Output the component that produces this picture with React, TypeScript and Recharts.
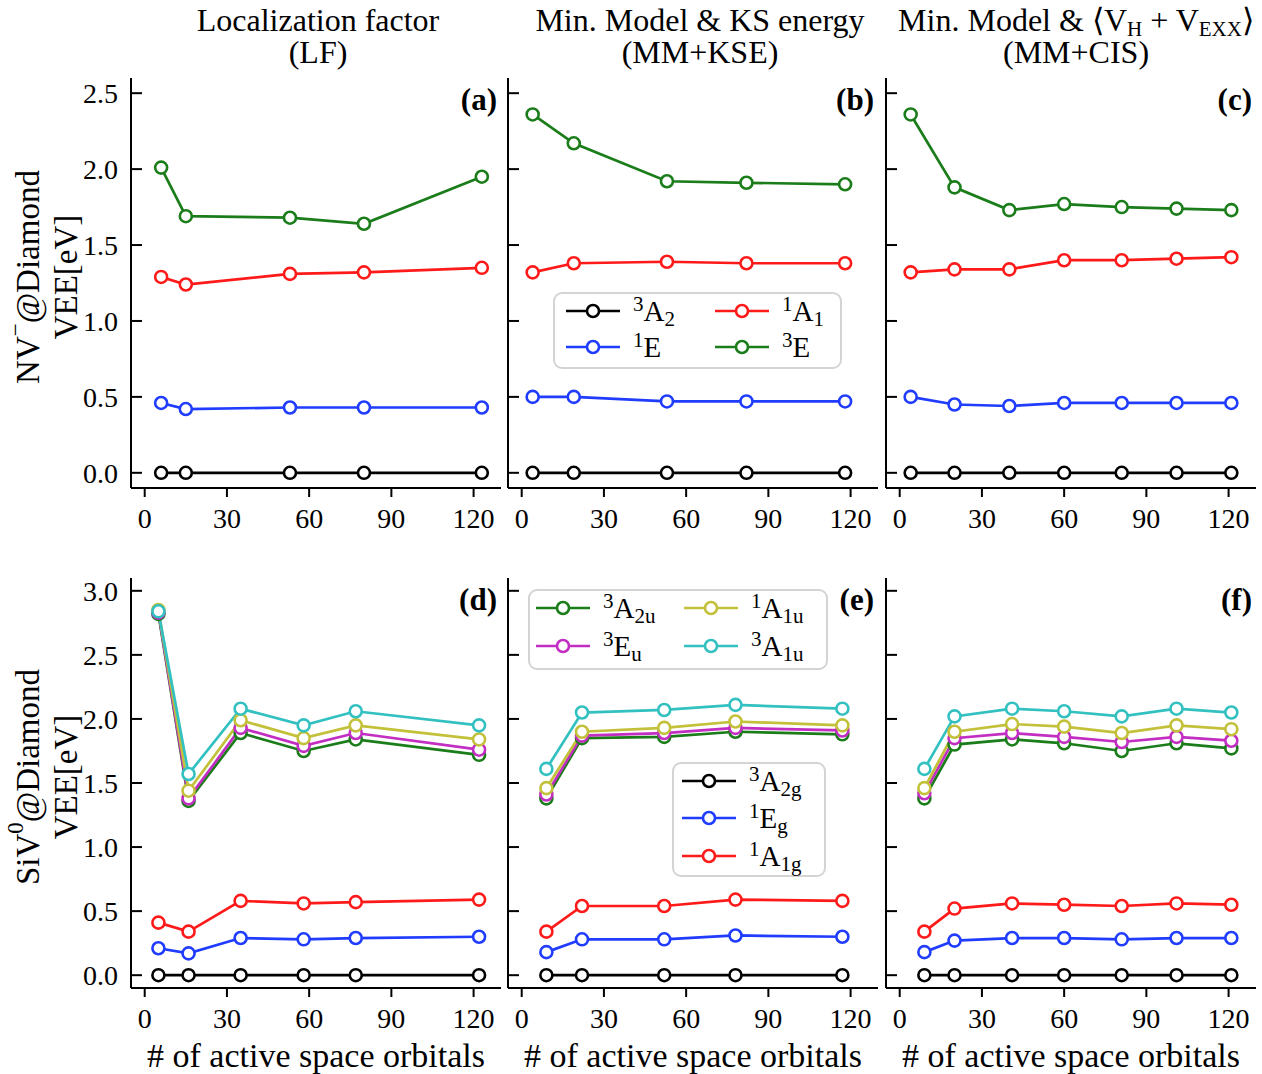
import React from 'react';
import { LineChart, Line, XAxis, YAxis, Legend } from 'recharts';

// x = number of active space orbitals, one list per panel
const xNvLF = [6, 15, 53, 80, 123];
const xNvKSE = [4, 19, 53, 82, 118];
const xNvCIS = [4, 20, 40, 60, 81, 101, 121];
const xSiLF = [5, 16, 35, 58, 77, 122];
const xSiKSE = [9, 22, 52, 78, 117];
const xSiCIS = [9, 20, 41, 60, 81, 101, 121];

// NV- @ diamond, VEE in eV
const nvLF_3A2 = [0, 0, 0, 0, 0];
const nvLF_1E = [0.46, 0.42, 0.43, 0.43, 0.43];
const nvLF_1A1 = [1.29, 1.24, 1.31, 1.32, 1.35];
const nvLF_3E = [2.01, 1.69, 1.68, 1.64, 1.95];

const nvKSE_3A2 = [0, 0, 0, 0, 0];
const nvKSE_1E = [0.5, 0.5, 0.47, 0.47, 0.47];
const nvKSE_1A1 = [1.32, 1.38, 1.39, 1.38, 1.38];
const nvKSE_3E = [2.36, 2.17, 1.92, 1.91, 1.9];

const nvCIS_3A2 = [0, 0, 0, 0, 0, 0, 0];
const nvCIS_1E = [0.5, 0.45, 0.44, 0.46, 0.46, 0.46, 0.46];
const nvCIS_1A1 = [1.32, 1.34, 1.34, 1.4, 1.4, 1.41, 1.42];
const nvCIS_3E = [2.36, 1.88, 1.73, 1.77, 1.75, 1.74, 1.73];

// SiV0 @ diamond
const siLF_3A2u = [2.82, 1.36, 1.89, 1.75, 1.84, 1.72];
const siLF_3Eu = [2.83, 1.38, 1.93, 1.79, 1.89, 1.76];
const siLF_1A1u = [2.85, 1.44, 1.99, 1.85, 1.95, 1.84];
const siLF_3A1u = [2.84, 1.57, 2.08, 1.95, 2.06, 1.95];
const siLF_3A2g = [0, 0, 0, 0, 0, 0];
const siLF_1Eg = [0.21, 0.17, 0.29, 0.28, 0.29, 0.3];
const siLF_1A1g = [0.41, 0.34, 0.58, 0.56, 0.57, 0.59];

const siKSE_3A2u = [1.38, 1.85, 1.86, 1.9, 1.88];
const siKSE_3Eu = [1.41, 1.87, 1.89, 1.93, 1.91];
const siKSE_1A1u = [1.46, 1.9, 1.93, 1.98, 1.95];
const siKSE_3A1u = [1.61, 2.05, 2.07, 2.11, 2.08];
const siKSE_3A2g = [0, 0, 0, 0, 0];
const siKSE_1Eg = [0.18, 0.28, 0.28, 0.31, 0.3];
const siKSE_1A1g = [0.34, 0.54, 0.54, 0.59, 0.58];

const siCIS_3A2u = [1.38, 1.8, 1.84, 1.81, 1.75, 1.81, 1.77];
const siCIS_3Eu = [1.42, 1.85, 1.89, 1.86, 1.82, 1.86, 1.83];
const siCIS_1A1u = [1.46, 1.9, 1.96, 1.94, 1.89, 1.95, 1.92];
const siCIS_3A1u = [1.61, 2.02, 2.08, 2.06, 2.02, 2.08, 2.05];
const siCIS_3A2g = [0, 0, 0, 0, 0, 0, 0];
const siCIS_1Eg = [0.18, 0.27, 0.29, 0.29, 0.28, 0.29, 0.29];
const siCIS_1A1g = [0.34, 0.52, 0.56, 0.55, 0.54, 0.56, 0.55];

const xTicks = [0, 30, 60, 90, 120];
const nvYTicks = [0, 0.5, 1, 1.5, 2, 2.5];
const siYTicks = [0, 0.5, 1, 1.5, 2, 2.5, 3];

const FONT = '"Liberation Serif", "Times New Roman", serif';
const C = {
  black: '#000000',
  blue: '#1f3cff',
  red: '#ff1a1a',
  green: '#1a7d1a',
  magenta: '#c22ec2',
  yellow: '#c3c03a',
  cyan: '#33c0c0',
};

const rows = (xs: number[], series: Record<string, number[]>) =>
  xs.map((x, i) => {
    const r: any = { x };
    Object.keys(series).forEach((k) => (r[k] = series[k][i]));
    return r;
  });

const nvLines = [
  { key: 'a2', color: C.black },
  { key: 'e1', color: C.blue },
  { key: 'a1', color: C.red },
  { key: 'e3', color: C.green },
];
const siLines = [
  { key: 'a2g', color: C.black },
  { key: 'eg', color: C.blue },
  { key: 'a1g', color: C.red },
  { key: 'a2u', color: C.green },
  { key: 'eu', color: C.magenta },
  { key: 'a1u1', color: C.yellow },
  { key: 'a1u3', color: C.cyan },
];

const lbl = (sup: string, base: string, sub?: string) => (
  <>
    <sup style={{ fontSize: 21, verticalAlign: 10, lineHeight: 0 }}>{sup}</sup>
    {base}
    {sub && <sub style={{ fontSize: 21, verticalAlign: -5, lineHeight: 0 }}>{sub}</sub>}
  </>
);

const nvLegend = [
  {
    x: 45, y: 214, w: 289, h: 77,
    items: [
      { x: 13, y: 19, color: C.black, label: lbl('3', 'A', '2') },
      { x: 13, y: 55, color: C.blue, label: lbl('1', 'E') },
      { x: 162, y: 19, color: C.red, label: lbl('1', 'A', '1') },
      { x: 162, y: 55, color: C.green, label: lbl('3', 'E') },
    ],
  },
];
const siLegend = [
  {
    x: 20, y: 11, w: 300, h: 81,
    items: [
      { x: 8, y: 19, color: C.green, label: lbl('3', 'A', '2u') },
      { x: 8, y: 57, color: C.magenta, label: lbl('3', 'E', 'u') },
      { x: 156, y: 19, color: C.yellow, label: lbl('1', 'A', '1u') },
      { x: 156, y: 57, color: C.cyan, label: lbl('3', 'A', '1u') },
    ],
  },
  {
    x: 164, y: 184, w: 154, h: 115,
    items: [
      { x: 10, y: 19, color: C.black, label: lbl('3', 'A', '2g') },
      { x: 10, y: 56, color: C.blue, label: lbl('1', 'E', 'g') },
      { x: 10, y: 94, color: C.red, label: lbl('1', 'A', '1g') },
    ],
  },
];

const LegendBoxes = ({ boxes }: { boxes: any[] }) => (
  <div style={{ position: 'relative', width: '100%', height: '100%', fontFamily: FONT }}>
    {boxes.map((b, i) => (
      <div
        key={i}
        style={{
          position: 'absolute', left: b.x, top: b.y, width: b.w, height: b.h,
          border: '2px solid #d4d4d4', borderRadius: 9, background: 'rgba(255,255,255,0.85)',
          boxSizing: 'border-box',
        }}
      >
        {b.items.map((it: any, j: number) => (
          <div
            key={j}
            style={{
              position: 'absolute', left: it.x - 2, top: it.y - 20, height: 36,
              display: 'flex', alignItems: 'center', whiteSpace: 'nowrap', color: '#000',
            }}
          >
            <svg width={54} height={14} style={{ overflow: 'visible' }}>
              <line x1={0} x2={54} y1={7} y2={7} stroke={it.color} strokeWidth={2.7} />
              <circle cx={27} cy={7} r={6} fill="#fff" stroke={it.color} strokeWidth={2.6} />
            </svg>
            <span style={{ marginLeft: 13, fontSize: 29, lineHeight: '36px' }}>{it.label}</span>
          </div>
        ))}
      </div>
    ))}
  </div>
);

const Y_TICK_MARGIN = 13;
const makeYTick = (showLabel: boolean) => (p: any) => {
  const ax = p.x + Y_TICK_MARGIN;
  return (
    <g>
      <line x1={ax} x2={ax + 11} y1={p.y} y2={p.y} stroke="#000" strokeWidth={2} />
      {showLabel && (
        <text x={p.x} y={p.y} dy="0.36em" textAnchor="end" fontSize={28} fill="#000">
          {Number(p.payload.value).toFixed(1)}
        </text>
      )}
    </g>
  );
};

const yLabelContent = (sup: string, name: string) => (p: any) => {
  const vb = p.viewBox;
  const cy = vb.y + vb.height / 2 - 6;
  return (
    <g fontSize={33} fill="#000">
      <text x={28} y={cy} transform={`rotate(-90, 28, ${cy})`} textAnchor="middle" dominantBaseline="central">
        {name}
        <tspan dy={-13} fontSize={23}>{sup}</tspan>
        <tspan dy={13}>@Diamond</tspan>
      </text>
      <text x={66} y={cy} transform={`rotate(-90, 66, ${cy})`} textAnchor="middle" dominantBaseline="central">
        VEE[eV]
      </text>
    </g>
  );
};

type PanelProps = {
  plotLeft: number;
  plotTop: number;
  plotW: number;
  plotH: number;
  padL: number;
  padB: number;
  data: any[];
  lines: { key: string; color: string }[];
  yDomain: [number, number];
  yTicks: number[];
  first: boolean;
  yLabel?: (p: any) => React.ReactNode;
  xLabel: boolean;
  legend?: any[];
  tag: string;
};

const PAD_T = 10;
const PAD_R = 6;

const Panel = (pp: PanelProps) => {
  const w = pp.padL + pp.plotW + PAD_R;
  const h = PAD_T + pp.plotH + pp.padB;
  return (
    <div style={{ position: 'absolute', left: pp.plotLeft - pp.padL, top: pp.plotTop - PAD_T, width: w, height: h }}>
      <LineChart width={w} height={h} data={pp.data} margin={{ top: PAD_T, right: PAD_R, left: 0, bottom: 0 }}>
        <XAxis
          dataKey="x"
          type="number"
          domain={[-5, 130]}
          ticks={xTicks}
          interval={0}
          height={pp.padB}
          tickSize={9}
          tickMargin={11}
          tickLine={{ stroke: '#000', strokeWidth: 2 }}
          axisLine={{ stroke: '#000', strokeWidth: 2 }}
          tick={{ fontSize: 28, fill: '#000' }}
          label={
            pp.xLabel
              ? { value: '# of active space orbitals', position: 'insideBottom', offset: 7, fontSize: 34, fill: '#000' }
              : undefined
          }
        />
        <XAxis
          xAxisId="top"
          orientation="top"
          type="number"
          domain={[-5, 130]}
          height={0}
          tick={false}
          tickLine={false}
          axisLine={{ stroke: '#000', strokeWidth: 2 }}
        />
        <YAxis
          type="number"
          domain={pp.yDomain}
          ticks={pp.yTicks}
          interval={0}
          width={pp.padL}
          tickSize={0}
          tickMargin={Y_TICK_MARGIN}
          tickLine={false}
          axisLine={{ stroke: '#000', strokeWidth: 2 }}
          tick={makeYTick(pp.first)}
          label={pp.yLabel ? { content: pp.yLabel } : undefined}
        />
        <YAxis
          yAxisId="right"
          orientation="right"
          type="number"
          domain={pp.yDomain}
          width={0}
          tick={false}
          tickLine={false}
          axisLine={{ stroke: '#000', strokeWidth: 2 }}
        />
        {pp.legend && (
          <Legend
            layout="vertical"
            align="center"
            verticalAlign="middle"
            wrapperStyle={{ left: pp.padL, top: PAD_T, width: pp.plotW, height: pp.plotH }}
            content={() => <LegendBoxes boxes={pp.legend as any[]} />}
          />
        )}
        {pp.lines.map((l) => (
          <Line
            key={l.key}
            dataKey={l.key}
            stroke={l.color}
            strokeWidth={2.7}
            dot={{ r: 6, fill: '#fff', stroke: l.color, strokeWidth: 2.6 }}
            isAnimationActive={false}
          />
        ))}
      </LineChart>
      <div
        style={{
          position: 'absolute', right: PAD_R + 4, top: PAD_T + 7, fontWeight: 'bold',
          fontSize: 31, lineHeight: '30px', fontFamily: FONT, color: '#000',
        }}
      >
        {pp.tag}
      </div>
    </div>
  );
};

const subStyle: React.CSSProperties = { fontSize: 21, verticalAlign: -5, lineHeight: 0 };

const Title = ({ cx, children }: { cx: number; children: React.ReactNode }) => (
  <div
    style={{
      position: 'absolute', left: cx - 250, width: 500, top: 4, textAlign: 'center',
      fontSize: 32, lineHeight: '32px', color: '#000', whiteSpace: 'nowrap',
    }}
  >
    {children}
  </div>
);

const cols = [131, 508, 886];
const rowTops = [78, 578];
const PW = 370;
const PH = 410;

export default function App() {
  const nvData = [
    rows(xNvLF, { a2: nvLF_3A2, e1: nvLF_1E, a1: nvLF_1A1, e3: nvLF_3E }),
    rows(xNvKSE, { a2: nvKSE_3A2, e1: nvKSE_1E, a1: nvKSE_1A1, e3: nvKSE_3E }),
    rows(xNvCIS, { a2: nvCIS_3A2, e1: nvCIS_1E, a1: nvCIS_1A1, e3: nvCIS_3E }),
  ];
  const siData = [
    rows(xSiLF, { a2g: siLF_3A2g, eg: siLF_1Eg, a1g: siLF_1A1g, a2u: siLF_3A2u, eu: siLF_3Eu, a1u1: siLF_1A1u, a1u3: siLF_3A1u }),
    rows(xSiKSE, { a2g: siKSE_3A2g, eg: siKSE_1Eg, a1g: siKSE_1A1g, a2u: siKSE_3A2u, eu: siKSE_3Eu, a1u1: siKSE_1A1u, a1u3: siKSE_3A1u }),
    rows(xSiCIS, { a2g: siCIS_3A2g, eg: siCIS_1Eg, a1g: siCIS_1A1g, a2u: siCIS_3A2u, eu: siCIS_3Eu, a1u1: siCIS_1A1u, a1u3: siCIS_3A1u }),
  ];
  const tagsTop = ['(a)', '(b)', '(c)'];
  const tagsBot = ['(d)', '(e)', '(f)'];

  return (
    <div
      style={{
        position: 'absolute', left: 0, top: 0, width: 1262, height: 1074,
        background: '#fff', fontFamily: FONT, overflow: 'hidden',
      }}
    >
      <Title cx={318}>
        Localization factor
        <br />
        (LF)
      </Title>
      <Title cx={700}>
        Min. Model &amp; KS energy
        <br />
        (MM+KSE)
      </Title>
      <Title cx={1076}>
        Min. Model &amp; ⟨V<sub style={subStyle}>H</sub> + V<sub style={subStyle}>EXX</sub>⟩
        <br />
        (MM+CIS)
      </Title>

      {cols.map((cl, i) => (
        <Panel
          key={'nv' + i}
          plotLeft={cl}
          plotTop={rowTops[0]}
          plotW={PW}
          plotH={PH}
          padL={i === 0 ? 131 : 8}
          padB={60}
          data={nvData[i]}
          lines={nvLines}
          yDomain={[-0.1, 2.6]}
          yTicks={nvYTicks}
          first={i === 0}
          yLabel={i === 0 ? yLabelContent('−', 'NV') : undefined}
          xLabel={false}
          legend={i === 1 ? nvLegend : undefined}
          tag={tagsTop[i]}
        />
      ))}
      {cols.map((cl, i) => (
        <Panel
          key={'si' + i}
          plotLeft={cl}
          plotTop={rowTops[1]}
          plotW={PW}
          plotH={PH}
          padL={i === 0 ? 131 : 8}
          padB={86}
          data={siData[i]}
          lines={siLines}
          yDomain={[-0.1, 3.1]}
          yTicks={siYTicks}
          first={i === 0}
          yLabel={i === 0 ? yLabelContent('0', 'SiV') : undefined}
          xLabel={true}
          legend={i === 1 ? siLegend : undefined}
          tag={tagsBot[i]}
        />
      ))}
    </div>
  );
}
